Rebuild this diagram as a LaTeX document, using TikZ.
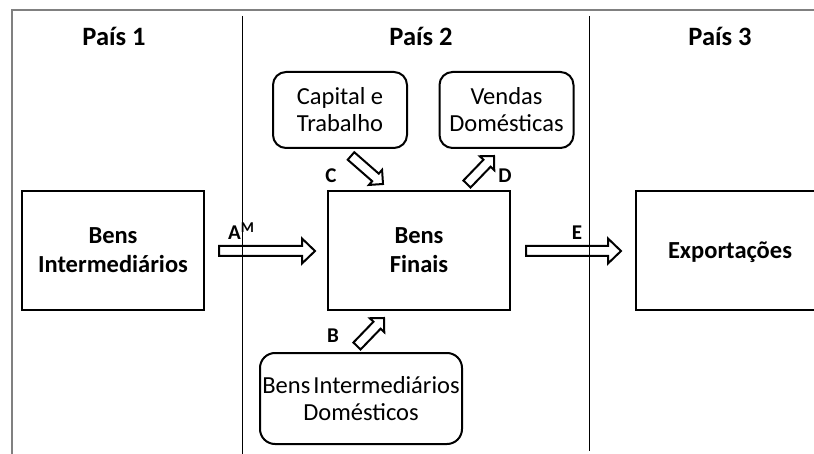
\documentclass[tikz,border=0pt]{standalone}
\usepackage{fontspec}
\setmainfont{Carlito}
\usetikzlibrary{calc}
\newcommand{\blockarrow}[5]{%
  \coordinate (h-#1) at ($(#2)!#5!(#1)$);
  \draw[barrow] ($(#1)!#3!90:(#2)$) -- ($(h-#1)!#3!-90:(#1)$) -- ($(h-#1)!#4!-90:(#1)$) -- (#2)
     -- ($(h-#1)!#4!90:(#1)$) -- ($(h-#1)!#3!90:(#1)$) -- ($(#1)!#3!-90:(#2)$) -- cycle;
}
\begin{document}
\begin{tikzpicture}[x=1pt,y=-1pt,
  sq/.style={draw, line width=2.4pt, minimum width=182pt, minimum height=119pt, inner sep=0pt,
    font=\fontsize{24.5}{29}\selectfont\bfseries, align=center, text depth=0pt},
  rnd/.style={draw, line width=2pt, rounded corners=13pt, minimum width=134pt, minimum height=76pt, inner sep=0pt,
    font=\fontsize{24.5}{27}\selectfont, align=center},
  head/.style={font=\fontsize{26.5}{30}\selectfont\bfseries, anchor=base},
  lbl/.style={font=\fontsize{21}{22}\selectfont\bfseries, anchor=base},
  divider/.style={line width=0.9pt},
  frame/.style={line width=2.5pt, draw=black!50},
  barrow/.style={draw, line width=2pt, fill=white, line join=miter}
]
\clip (0,0) rectangle (814,454);
\fill[white] (0,0) rectangle (814,454);

% frame
\coordinate (fBL) at (12,456);
\coordinate (fTL) at (12,10);
\coordinate (fTR) at (816,10);
\draw[frame] (fBL) -- (fTL) -- (fTR);

% headings
\node[head] (p1) at (114,46) {País 1};
\node[head] (p2) at (421,46) {País 2};
\node[head] (p3) at (720,46) {País 3};

% main boxes
\node[sq] (bi) at (113,250.5) {Bens\\Intermediários};
\node[sq] (bf) at (419,250.5) {Bens\\Finais};
\node[sq, minimum width=188pt] (ex) at (730,250.5) {Exportações};

% rounded boxes
\node[rnd] (ct) at (340,110) {Capital e\\Trabalho};
\node[rnd] (vd) at (506.5,110) {Vendas\\Domésticas};
\node[rnd, minimum width=202pt, minimum height=91pt, rounded corners=15pt] (bid) at (361,398.5) {Bens\hspace{-0.1em} Intermediários\\Domésticos};

% arrow end points
\coordinate (aS) at (219,251);
\coordinate (aE) at (315,251);
\coordinate (eS) at (526,251);
\coordinate (eE) at (621,251);
\coordinate (cS) at (351,156);
\coordinate (cE) at (383,184);
\coordinate (dS) at (467,184);
\coordinate (dE) at (494,156);
\coordinate (bS) at (357,346);
\coordinate (bE) at (384,318);

\blockarrow{aS}{aE}{5pt}{12.5pt}{13pt}
\blockarrow{eS}{eE}{5pt}{12.5pt}{13pt}
\blockarrow{cS}{cE}{5pt}{10pt}{10pt}
\blockarrow{dS}{dE}{5pt}{10pt}{10pt}
\blockarrow{bS}{bE}{5pt}{10pt}{10pt}

% labels
\node[lbl, anchor=base west, inner sep=0pt] (la) at (228,240) {A\raisebox{7pt}{\fontsize{15}{15}\selectfont M}};
\node[lbl] (lc) at (331,183) {C};
\node[lbl] (ld) at (505,183) {D};
\node[lbl] (lb) at (333,343) {B};
\node[lbl] (le) at (577,240) {E};

% dividers
\coordinate (d1t) at (242,16);
\coordinate (d1b) at (242,454);
\coordinate (d2t) at (589,16);
\coordinate (d2b) at (589,451);
\draw[divider] (d1t) -- (d1b);
\draw[divider] (d2t) -- (d2b);
\end{tikzpicture}
\end{document}
